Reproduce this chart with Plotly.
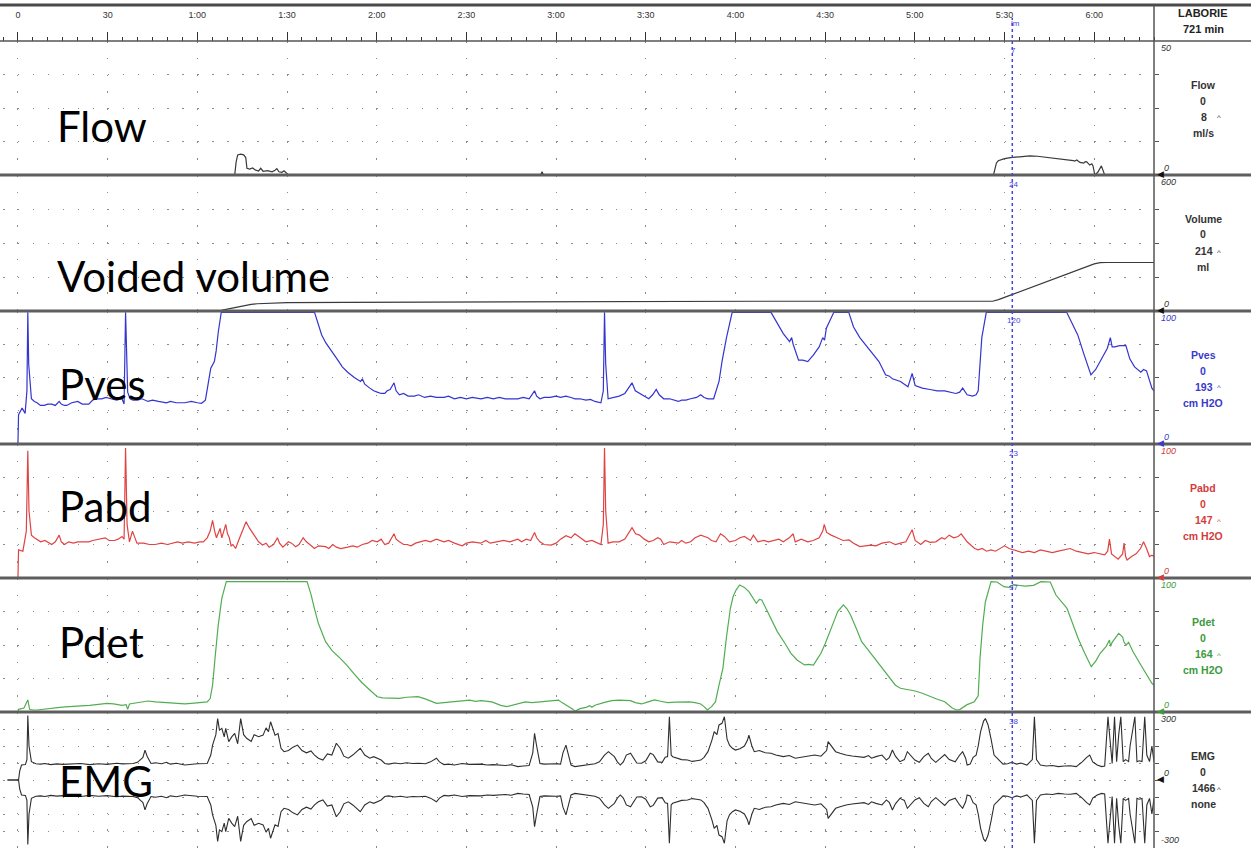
import plotly.graph_objects as go

# ---------------- data (time in s, value in channel units) ----------------
flow_t = [-5, 72.5, 73, 73.5, 74.5, 75.5, 76.2, 76.6, 77.5, 78.5, 79.5, 80.5, 81.2, 82, 83.5, 85, 86, 86.6, 87.3,
          88.3, 89, 89.8, 90.5, 174.8, 175.3, 175.8, 326.3, 327.3, 327.9, 330, 332, 335, 338.5, 341, 344, 347,
          350.7, 352, 353, 353.5, 354.2, 355.2, 356, 356.5, 357, 357.5, 358.5, 359.2, 359.6, 360.2, 361.2, 362.4,
          363.5, 380]
flow_v = [0, 0, 5, 7.5, 7.8, 7.5, 6.5, 2.5, 2.2, 2.6, 1.8, 1.5, 2.5, 1.4, 1.6, 1.2, 1.8, 2.4, 1.2,
          1.0, 1.6, 0.6, 0, 0, 1.2, 0, 0, 4.5, 5.3, 6.1, 6.5, 6.8, 7.1, 7.0, 6.6, 6.3,
          5.8, 5.7, 5.4, 5.2, 5.6, 4.7, 4.5, 4.4, 5.0, 4.9, 3.7, 4.2, 3.4, 0, 1.0, 3.4,
          0, 0]

vol_t = [-5, 66, 68, 70, 72, 74, 76, 78, 80, 85, 90, 110, 150, 200, 250, 326, 328, 332, 336, 340, 345, 350,
         355, 358, 360, 362, 364, 380]
vol_v = [0, 0, 3, 8, 14, 20, 25, 29, 32, 35, 37, 38, 40, 42, 43, 43, 50, 70, 90, 110, 135, 160,
         185, 200, 208, 213, 214, 214]

pves_t = [-3.5, 0, 0.2, 1.4, 2.4, 3.0, 3.3, 3.6, 4.5, 5.5, 6.4, 7.5, 8.8, 10, 11.3, 12.5, 13.8, 14.5, 15.5, 16.3,
          18, 20, 21.5, 23.7, 25, 26.1, 28, 29.5, 31.1, 33, 34.8, 35.5, 36, 36.3, 36.7, 37.5, 38.5, 40, 41.5,
          43.5, 45, 47, 49.7, 51, 53, 55.8, 58, 60, 61.4, 62.7, 64.5, 65.7, 66.3, 67, 68, 99.2, 101.6, 103,
          105.3, 107, 108.5, 110.3, 112.5, 114.6, 115.2, 116, 117.7, 119, 120.2, 121.5, 122.7, 123.5, 124.5,
          125.8, 126.5, 127.6, 129, 130.5, 132.6, 134, 136, 138, 140, 142.5, 144, 146, 148, 150, 152, 154.9,
          157, 159, 161, 163, 165, 167.2, 169, 171, 172.8, 173.5, 174.6, 176, 178, 180, 181.5, 183.3, 185,
          186.3, 188, 190, 191.5, 193, 195, 195.8, 196.2, 196.6, 197.4, 199, 201.1, 203, 205.4, 206.5, 207.9,
          209.5, 211, 212.3, 213.5, 214.5, 216, 218, 220.9, 222, 223.4, 225, 227, 228.4, 229.5, 230.8, 232.7,
          234.5, 235.5, 237, 238.9, 251.9, 253.7, 256, 258.1, 258.8, 259.3, 261.1, 262.5, 264.2, 266.1, 268,
          269.2, 269.8, 270.4, 271.5, 272.9, 277.9, 279.5, 281.6, 285.3, 288, 290.2, 291.5, 292.5, 295.2,
          297.7, 299.1, 300.1, 302.5, 305.1, 307.5, 310, 312, 313.7, 315, 316, 317.5, 319.3, 320.5, 321.2,
          322.4, 323.9, 350.8, 354.5, 356.5, 358.9, 360.5, 362, 364.4, 365.4, 366, 366.9, 368.5, 370.6,
          371.9, 373.5, 375.6, 376.5, 377.5, 379.3, 380]
pves_v = [0, 0, 22, 27, 23, 40, 99, 60, 34, 32, 31, 29, 29, 30, 30, 29, 32, 30, 29, 29,
          31, 32, 30, 30, 33, 34, 34, 35, 34, 33, 34, 30, 99, 60, 39, 34, 33, 33, 34,
          32, 33, 32, 31, 32, 31, 31, 32, 31, 30.6, 33, 57, 62, 70, 84, 99, 99, 82, 76,
          69, 63, 58, 54, 50, 47, 49, 45, 42, 40, 39, 38, 38, 40, 41,
          46, 40, 37, 38, 36, 36, 37, 35, 36, 35, 35, 36, 34, 35, 34, 35, 34,
          35, 34, 35, 34, 34, 34, 35, 34, 40, 36, 34, 35, 35, 36, 35, 36, 35,
          34, 34, 33, 33.5, 32, 31, 40, 99, 60, 34, 35, 36, 38, 46, 40, 38,
          36, 34, 37, 41, 37, 34, 34, 32, 33, 33, 34, 35, 37, 35, 34, 34,
          47, 62, 80, 99, 99, 92, 83, 77, 80, 75, 63, 63, 62, 67, 73,
          80, 78, 87, 92, 99, 99, 88, 80, 70, 62, 52, 51, 49, 47,
          43, 53, 44, 42, 41, 40, 40, 39, 38, 39, 42, 37, 36, 37, 40,
          80, 99, 99, 82, 68, 52, 56, 62, 72, 80, 73, 73, 74, 74,
          64, 58, 54, 56, 55, 42, 40]

pabd_t = [-3.5, 0, 0.2, 1.65, 2.8, 3.3, 3.7, 4.5, 5.5, 7.6, 9, 11.3, 12.5, 13.8, 14.5, 15.6, 17, 18.5, 20, 22,
          23.7, 25, 27, 29.2, 30.5, 32.3, 33.5, 34.8, 35.5, 36, 36.5, 37.3, 38.3, 39.8, 42, 44, 45.9, 48, 50,
          53.4, 55, 57, 59, 60.8, 62, 63.3, 64.3, 65.1, 65.8, 66.4, 67.6, 68.2, 69.5, 70.1, 70.7, 71.3, 71.9,
          72.8, 73.8, 75, 76.3, 77.5, 79.4, 80.5, 81.8, 83, 84, 85.5, 86.8, 87.5, 88.6, 89.5, 90.5, 91.5,
          92.9, 94, 95.4, 96.5, 97.5, 99.2, 100.5, 102.9, 104, 105.3, 106.5, 108, 110.3, 112, 113.5, 115.2,
          117, 118.5, 120.2, 121.5, 122.7, 124, 125.8, 126.5, 127.6, 129, 130.1, 131.5, 133, 134.5, 136.3,
          138, 140, 142.5, 144, 146, 148.6, 150, 152, 154.8, 156.5, 158, 161, 162.5, 164.5, 167.2, 168.5,
          170, 171.5, 172.8, 173.5, 174.6, 176, 178.3, 180, 181.5, 183.3, 185, 186.3, 188, 190, 192, 194,
          195, 195.8, 196.2, 196.6, 197.4, 199, 201.1, 203, 205.4, 206.6, 207.9, 209.5, 211, 212.5, 214, 215,
          216, 218, 220.9, 222, 223.4, 225, 226.5, 228.4, 229.5, 230.8, 232, 233.5, 235, 236.3, 238, 240,
          241.5, 243, 245, 246, 247.5, 249.5, 251, 252.8, 254.5, 256, 258, 259.3, 260, 262, 264.2, 266, 268,
          269.2, 269.7, 270.5, 272, 274, 276, 278, 279.5, 281.6, 283.5, 285.3, 287, 289, 291.5, 293.5, 295.2,
          297, 299.1, 300.1, 302, 303.5, 305.1, 307, 309, 310, 311.5, 313, 314.5, 315.5, 316.5, 317.5, 318.5,
          320, 321.2, 322.5, 324, 325.5, 327, 328.5, 330, 331.5, 333, 334, 336, 338, 340, 342, 344, 346, 348,
          350, 352, 354, 356, 358, 360, 361.5, 363.5, 364.5, 365.1, 365.8, 367, 368, 369.5, 370, 370.5, 371,
          372.5, 374, 375.5, 376.5, 377.5, 378.5, 379.3, 380]
pabd_v = [0, 0, 21, 20, 35, 95, 50, 32, 30, 27, 28, 25, 27, 32, 27, 25, 27, 26, 27, 27,
          27, 28, 29, 30, 28, 28, 29, 31, 29, 97, 40, 27, 35, 26, 26, 25, 25, 26, 25,
          27, 26, 27, 26, 27, 27, 30, 35, 43, 35, 30, 37, 30, 40, 33, 30, 24, 25,
          22, 28, 35, 42, 37, 30, 27, 24.6, 26, 23, 25, 30, 26, 23, 25, 27, 26,
          23.4, 25, 30, 27, 25, 22, 24, 23.4, 22, 25, 23, 22, 23, 24, 23, 25,
          26, 28, 27, 29, 25, 26, 33, 29, 27, 25, 25, 24, 26, 27, 28,
          27, 29, 27, 28, 26, 24, 26, 27, 26, 28, 26, 27, 28, 27, 29, 27,
          29, 28, 34, 30, 27, 25, 24.6, 26, 29, 31.6, 30, 33, 30, 27, 28, 26,
          25, 40, 97, 50, 26, 27, 27, 29, 37.6, 33, 32, 29, 27, 28, 30, 29,
          25, 27, 26, 28, 26, 27, 30, 32, 31, 30, 28, 27, 33, 31, 27, 28,
          30, 31, 28, 32, 27, 28, 27, 28, 29, 27, 30, 33, 27, 29, 27, 28, 30,
          35, 40, 34, 32, 30, 28, 28.4, 26, 23.4, 24, 24.6, 24, 26, 27, 25, 26,
          27, 36, 28, 25, 28, 26.6, 27, 30, 29, 32, 30, 31, 33, 30, 27, 25,
          22, 21, 22, 20, 21, 20, 22, 24, 22, 21, 20, 19, 20, 19, 21, 20, 19, 20,
          21, 22, 20, 19, 18, 19, 18, 17.2, 20, 29, 18, 16, 14, 18, 26, 16, 13.4,
          16, 18, 22, 27, 22, 16, 17, 16]

pdet_t = [0, 0.2, 2, 3.3, 3.9, 5, 6.4, 8, 10.1, 12, 14, 16, 18.7, 21, 24, 27, 29.8, 32, 34.8, 36.2, 36.7, 37.3,
          39, 41, 43.5, 46, 49.7, 52, 55.8, 58, 60, 63.3, 64.3, 65.1, 66, 67, 68.2, 69.7, 96.7, 98, 99.2, 100.5,
          102.9, 105, 107.8, 110, 112.8, 115, 117.7, 120.2, 122, 124, 127.6, 130, 133.8, 136, 138, 140, 142.5,
          144.9, 147, 149, 151.1, 153, 155, 158.5, 160, 161.5, 163.5, 165.5, 167.5, 169.7, 172, 174, 175.9, 178,
          180.8, 182, 183.5, 185.7, 186.3, 188, 190, 191.3, 192, 193, 196.2, 198.7, 201, 204.9, 206.5, 208.6,
          210, 212.9, 215, 217.3, 220, 222, 224.7, 226.5, 228.4, 229.5, 230.6, 232, 233.3, 234.5, 235.8, 237,
          238.3, 239.2, 240.2, 241.4, 243, 244.5, 246, 247, 248, 248.8, 250.5, 251.9, 254, 256.9, 258.5, 260.6,
          263.1, 264.5, 266.1, 267.5, 268.6, 270, 271.7, 273, 274.2, 276.1, 277.3, 278.5, 280.5, 282.2, 284.5,
          286.6, 289, 291.5, 293.5, 295.2, 297.5, 300.1, 302.5, 305.1, 307.5, 310, 311.5, 312.5, 314, 315,
          317.5, 319.9, 321.2, 321.8, 322.7, 323.6, 325.5, 327.5, 329.8, 331.5, 333, 334.8, 337, 339.7, 342.2,
          345.3, 347.2, 350.9, 352.5, 354.6, 356.8, 359, 360.5, 362, 364, 365.1, 365.5, 366, 368.2, 369.5, 370,
          370.7, 371.5, 373, 375.6, 377.5, 379.3, 380]
pdet_v = [0.5, 2, 3, 9, 2, 1.5, 1.5, 2, 2.7, 3, 3.5, 3.8, 4, 4.5, 5, 5.5, 6.5, 6, 5, 5.5, 2, 6,
          6.5, 7.5, 8.2, 7.5, 7, 6.5, 6, 6.5, 7, 7.5, 10, 20, 42, 65, 85, 97.3, 97.3, 88, 77, 66,
          52.5, 46, 40, 35, 27.6, 22, 16.4, 11.4, 10.5, 10.3, 10.2, 11, 11.4, 10, 8, 6.5, 7,
          7.5, 8.5, 8.5, 8.9, 8, 8.5, 7.5, 6, 5, 4, 5, 6, 7.5, 7, 7.5, 7.5, 8,
          8.9, 7, 5, 1.9, 0.5, 2.5, 3.5, 4.7, 3.5, 5, 7.2, 8.5, 8.8, 8.5, 7, 6,
          7, 9, 8, 7, 7.3, 7.5, 7.5, 7, 6, 4, 1.5, 4, 7.5, 20, 32.6, 56,
          77.4, 86, 91, 94.8, 93, 89.8, 85, 81.1, 84, 83.6, 76, 69.9, 60, 50, 44, 38.8,
          35.1, 35.5, 35, 40, 43.8, 51, 59.9, 68, 74.9, 79.9, 77, 72.4, 62, 52.5, 46,
          40, 33, 25.1, 20, 17.7, 16.8, 15.7, 14, 11.4, 9.5, 7.7, 5, 3, 1.5, 1.8,
          5.5, 7.7, 12, 40, 65, 82.3, 97.3, 97, 93.5, 93, 95, 94.8, 94, 94.5, 97.3,
          97, 87.3, 77.4, 68, 55, 44, 33.8, 38, 43.8, 49, 53.7, 49, 52, 58.7, 56, 52,
          50, 52, 45, 35.1, 28, 21.4, 20]

emg_t = [-3.5, 0.2, 0.6, 1.2, 2.5, 3.0, 3.3, 3.7, 4.5, 6, 7.6, 9, 11, 13, 15, 18.7, 21, 24, 27, 29.8, 31, 33, 35,
         38.5, 40, 41.8, 42.5, 43.2, 44.5, 46, 48, 49.7, 51, 53, 55.8, 58, 60, 63.3, 64.5, 65.1, 66.2, 66.8,
         67.4, 68.2, 69, 69.5, 70.5, 71.5, 72.5, 73.5, 74.5, 75.5, 76.5, 78, 79, 80.5, 82, 83, 83.8, 84.5,
         85.2, 86, 87, 88, 89, 90.5, 92, 93.5, 95, 96.5, 98, 99.2, 100.5, 102, 103.5, 105, 106.5, 107.8, 109,
         110.5, 112, 113.5, 114.5, 116, 117.7, 119, 120.2, 121.5, 122.7, 124, 126, 128, 130, 132, 134, 136.3,
         138, 140, 141, 142.5, 144, 146, 148.6, 151, 154.8, 157, 159, 161, 163, 165, 167.2, 169, 171, 172.2,
         172.8, 173.5, 174.6, 176, 178.3, 180, 181.5, 182.3, 183.3, 184.2, 185, 186.3, 188, 190, 191.3, 193,
         194.5, 196.2, 197.5, 198.7, 199.5, 200.5, 201.5, 202.5, 203.5, 204.9, 206, 207, 208.6, 210, 211.5,
         212.5, 214, 215.5, 216.5, 217.3, 217.9, 218.5, 219, 220.5, 222, 224, 225.5, 227, 228.4, 229.5, 230.8,
         232.1, 232.9, 233.8, 234.5, 235.5, 236.3, 237.2, 238, 239, 240, 241.5, 243, 244, 244.5, 245.5, 246.3,
         248, 250, 251.9, 253.5, 256, 258, 260, 262, 264.5, 266.5, 268.6, 270.5, 271, 272, 273.5, 275, 277,
         279, 281, 283, 284.5, 285.5, 287, 289, 290.5, 291.5, 292.5, 293.5, 295, 296.5, 297.5, 298.5, 300,
         301.5, 303, 304.5, 305.5, 307, 308.5, 310, 311.5, 313.5, 315, 316, 317, 317.5, 318.5, 319.5, 320.5,
         321.2, 322, 323, 323.6, 324.5, 325.5, 326.5, 328, 329.5, 331, 332.5, 334, 335.5, 337.5, 339.3, 340,
         340.7, 342, 344, 346, 348, 350, 352, 354, 356, 357.5, 358.5, 359.5, 361, 362.5, 363.5, 364.6, 365.4,
         366, 366.8, 367.5, 368.2, 368.9, 369.7, 370.5, 371.5, 372, 373.6, 374.3, 375, 376, 376.9, 377.6,
         378.5, 379.3, 380]
emg_v = [0, 0, 40, 66, 68, 90, 285, 150, 81, 72, 70, 73, 68, 71, 69, 70, 73, 68, 72, 69, 72, 74, 71,
         73, 78, 100, 132, 105, 73, 76, 72, 78, 70, 74, 66, 70, 72, 73, 110, 154, 200, 271,
         220, 228, 190, 228, 169, 190, 206, 160, 271, 200, 184, 170, 200, 191, 198, 230, 213, 257,
         230, 198, 205, 140, 125, 130, 145, 154, 130, 120, 128, 110, 96, 88, 115, 110, 162, 140, 105,
         96, 110, 130, 140, 110, 96, 103, 96, 88, 73, 70, 75, 72, 76, 73, 74, 72,
         80, 96, 80, 68, 70, 66, 73, 69, 70, 66, 68, 66, 64, 67, 59, 62, 64, 120,
         206, 150, 73, 70, 73, 72, 70, 120, 154, 100, 66, 59, 62, 64, 66, 72,
         80, 110, 125, 110, 103, 80, 66, 80, 110, 118, 95, 75, 74, 85, 118,
         112, 80, 78, 100, 103, 279, 110, 103, 96, 90, 88, 82, 85, 88, 100, 125,
         175, 213, 200, 243, 250, 279, 180, 154, 140, 132, 138, 150, 175, 198, 150, 125,
         130, 120, 118, 110, 103, 108, 96, 100, 103, 110, 105, 130, 169, 150, 125, 118, 110,
         106, 103, 100, 108, 96, 103, 110, 88, 100, 132, 105, 81, 90, 125, 110, 88,
         78, 103, 118, 95, 78, 96, 112, 90, 80, 110, 125, 96, 66, 70, 100, 110,
         150, 213, 260, 271, 243, 180, 110, 90, 70, 72, 78, 70, 75, 66, 90, 279,
         90, 66, 62, 64, 59, 62, 63, 59, 80, 100, 110, 80, 66, 59, 62, 279, 150,
         73, 279, 81, 200, 279, 81, 90, 81, 150, 279, 81, 85, 81, 279, 110,
         81, 150, 81]

tick_vals = [0, 30, 60, 90, 120, 150, 180, 210, 240, 270, 300, 330, 360]
tick_text = ["0", "30", "1:00", "1:30", "2:00", "2:30", "3:00", "3:30", "4:00", "4:30", "5:00", "5:30", "6:00"]

channels = ["Flow", "Volume", "Pves", "Pabd", "Pdet", "EMG"]
big_labels = ["Flow", "Voided volume", "Pves", "Pabd", "Pdet", "EMG"]
readouts = ["8", "214", "193", "147", "164", "1466"]
units = ["ml/s", "ml", "cm H2O", "cm H2O", "cm H2O", "none"]
scale_top = ["50", "600", "100", "100", "100", "300"]
cursor_vals = ["7", "24", "120", "23", "97", "38"]
cursor_t = 332.6

# ---------------- layout constants ----------------
W, H = 1251, 848
X_LEFT, X_RIGHT = 3, 1154
edges = [41, 175, 311, 444, 578, 712, 848]
colors = ["#3a3a3a", "#3a3a3a", "#3434cf", "#e04343", "#52ad52", "#2e2e2e"]
label_colors = ["#333333", "#333333", "#3a3acc", "#d43b3b", "#3d9a3d", "#333333"]
ranges = [[0, 50], [0, 600], [0, 100], [0, 100], [0, 100], [-300, 300]]


def py(y):
    return 1 - y / H


def pxx(x):
    return x / W


fig = go.Figure()
series = [(flow_t, flow_v), (vol_t, vol_v), (pves_t, pves_v), (pabd_t, pabd_v), (pdet_t, pdet_v)]
for i, (t, v) in enumerate(series):
    fig.add_trace(go.Scatter(x=t, y=v, mode="lines", line=dict(color=colors[i], width=1.2),
                             yaxis="y" if i == 0 else f"y{i+1}", showlegend=False, hoverinfo="skip"))
fig.add_trace(go.Scatter(x=emg_t, y=emg_v, mode="lines", line=dict(color=colors[5], width=1.1),
                         yaxis="y6", showlegend=False, hoverinfo="skip"))
fig.add_trace(go.Scatter(x=emg_t, y=[-v for v in emg_v], mode="lines", line=dict(color=colors[5], width=1.1),
                         yaxis="y6", showlegend=False, hoverinfo="skip"))

layout = dict(
    width=W, height=H, margin=dict(l=0, r=0, t=0, b=0),
    paper_bgcolor="white", plot_bgcolor="white", showlegend=False,
    xaxis=dict(domain=[pxx(X_LEFT), pxx(X_RIGHT)], range=[-5, 380], anchor="free", position=py(edges[0]),
               side="top", tickmode="array", tickvals=tick_vals, ticktext=tick_text, ticks="outside",
               ticklen=9, tickwidth=1, tickcolor="#333", ticklabelstandoff=10,
               tickfont=dict(family="Liberation Sans Narrow, Liberation Sans, Arial", size=9, color="#333"),
               showgrid=True, gridcolor="#8c8c8c", gridwidth=1.3, griddash="1.5px,15.25px",
               minor=dict(tickmode="linear", tick0=0, dtick=5, ticks="outside", ticklen=4, tickcolor="#333",
                          showgrid=False),
               zeroline=False, showline=False, fixedrange=True),
)
for i in range(6):
    top, bot = edges[i], edges[i + 1]
    lo, hi = ranges[i]
    n = 8 if i == 5 else 4
    tv = [lo + (hi - lo) * k / n for k in range(1, n)]
    key = "yaxis" if i == 0 else f"yaxis{i+1}"
    layout[key] = dict(domain=[py(bot), py(top)], range=ranges[i], anchor="x", side="right",
                       tickmode="array", tickvals=tv, showticklabels=False, ticks="outside", ticklen=4,
                       tickcolor="#555", showgrid=True, gridcolor="#8c8c8c", gridwidth=1.3,
                       griddash="1.5px,13.45px", zeroline=False, showline=False, fixedrange=True)
fig.update_layout(**layout)

shapes = []
# top border and time-axis base line
shapes.append(dict(type="line", xref="paper", yref="paper", x0=0, x1=1, y0=py(5), y1=py(5),
                   line=dict(color="#4a4a4a", width=3)))
shapes.append(dict(type="line", xref="paper", yref="paper", x0=0, x1=1, y0=py(edges[0]), y1=py(edges[0]),
                   line=dict(color="#555", width=1.5)))
for e in edges[1:-1]:
    shapes.append(dict(type="line", xref="paper", yref="paper", x0=0, x1=1, y0=py(e), y1=py(e),
                       line=dict(color="#5e5e5e", width=3)))
shapes.append(dict(type="line", xref="paper", yref="paper", x0=pxx(X_RIGHT), x1=pxx(X_RIGHT), y0=0, y1=py(5),
                   line=dict(color="#555", width=1.5)))
# cursor
shapes.append(dict(type="line", xref="x", yref="paper", x0=cursor_t, x1=cursor_t, y0=0, y1=py(18),
                   line=dict(color="#4545dd", width=1.5, dash="dot")))
fig.update_layout(shapes=shapes)

ann = []
# big channel names
big_y = [126, 276, 384, 506, 642, 781]
big_x = [55, 55, 57, 57, 57, 57]
for i in range(6):
    ann.append(dict(x=pxx(big_x[i]), y=py(big_y[i]), xref="paper", yref="paper", text=big_labels[i],
                    showarrow=False, xanchor="left", yanchor="middle",
                    font=dict(family="Lato, Open Sans, sans-serif", size=42, color="black")))
# right panel readouts
for i in range(6):
    top = edges[i]
    c = label_colors[i]
    f = dict(family="Liberation Sans, Arial", size=10.5, color=c)
    ann.append(dict(x=pxx(1203), y=py(top + 44), xref="paper", yref="paper", text=f"<b>{channels[i]}</b>",
                    showarrow=False, xanchor="center", yanchor="middle", font=f))
    ann.append(dict(x=pxx(1203), y=py(top + 59.5), xref="paper", yref="paper", text="<b>0</b>",
                    showarrow=False, xanchor="center", yanchor="middle", font=f))
    ann.append(dict(x=pxx(1204), y=py(top + 76), xref="paper", yref="paper", text=f"<b>{readouts[i]}</b>",
                    showarrow=False, xanchor="center", yanchor="middle", font=f))
    ann.append(dict(x=pxx(1219), y=py(top + 77), xref="paper", yref="paper", text="^",
                    showarrow=False, xanchor="center", yanchor="middle",
                    font=dict(family="Liberation Sans, Arial", size=8, color=c)))
    ann.append(dict(x=pxx(1203), y=py(top + 92), xref="paper", yref="paper", text=f"<b>{units[i]}</b>",
                    showarrow=False, xanchor="center", yanchor="middle", font=f))
    # scale labels
    fi = dict(family="Liberation Sans, Arial", size=9, color=c)
    ann.append(dict(x=pxx(1159), y=py(top + 7), xref="paper", yref="paper", text=f"<i>{scale_top[i]}</i>",
                    showarrow=False, xanchor="left", yanchor="middle", font=fi))
    zero_y = edges[i + 1] if i < 5 else (edges[5] + edges[6]) / 2
    ann.append(dict(x=pxx(1162), y=py(zero_y - 7), xref="paper", yref="paper", text="<i>0</i>",
                    showarrow=False, xanchor="left", yanchor="middle", font=fi))
    ann.append(dict(x=pxx(1155), y=py(zero_y - 1), xref="paper", yref="paper", text="◀",
                    showarrow=False, xanchor="left", yanchor="middle",
                    font=dict(family="DejaVu Sans", size=9, color=c if i in (2, 3, 4) else "#111")))
    # cursor readouts
    ann.append(dict(x=cursor_t + 0.5, y=py(top + 9), xref="x", yref="paper", text=cursor_vals[i],
                    showarrow=False, xanchor="center", yanchor="middle",
                    font=dict(family="Liberation Sans, Arial", size=8, color="#4545dd")))
ann.append(dict(x=pxx(1159), y=py(840), xref="paper", yref="paper", text="<i>-300</i>", showarrow=False,
                xanchor="left", yanchor="middle", font=dict(family="Liberation Sans, Arial", size=9, color="#333")))
ann.append(dict(x=cursor_t + 1.2, y=py(24), xref="x", yref="paper", text="lm", showarrow=False,
                xanchor="center", yanchor="middle", font=dict(family="Liberation Sans, Arial", size=8, color="#4545dd")))
ann.append(dict(x=pxx(1203), y=py(13), xref="paper", yref="paper", text="<b>LABORIE</b>", showarrow=False,
                xanchor="center", yanchor="middle", font=dict(family="Liberation Sans, Arial", size=11, color="#222")))
ann.append(dict(x=pxx(1203), y=py(29), xref="paper", yref="paper", text="<b>721 min</b>", showarrow=False,
                xanchor="center", yanchor="middle", font=dict(family="Liberation Sans, Arial", size=11, color="#222")))
fig.update_layout(annotations=ann)

fig.write_html("out.html", config={"displayModeBar": False},
               post_script="document.body.style.margin='0px';document.body.style.padding='0px';")
